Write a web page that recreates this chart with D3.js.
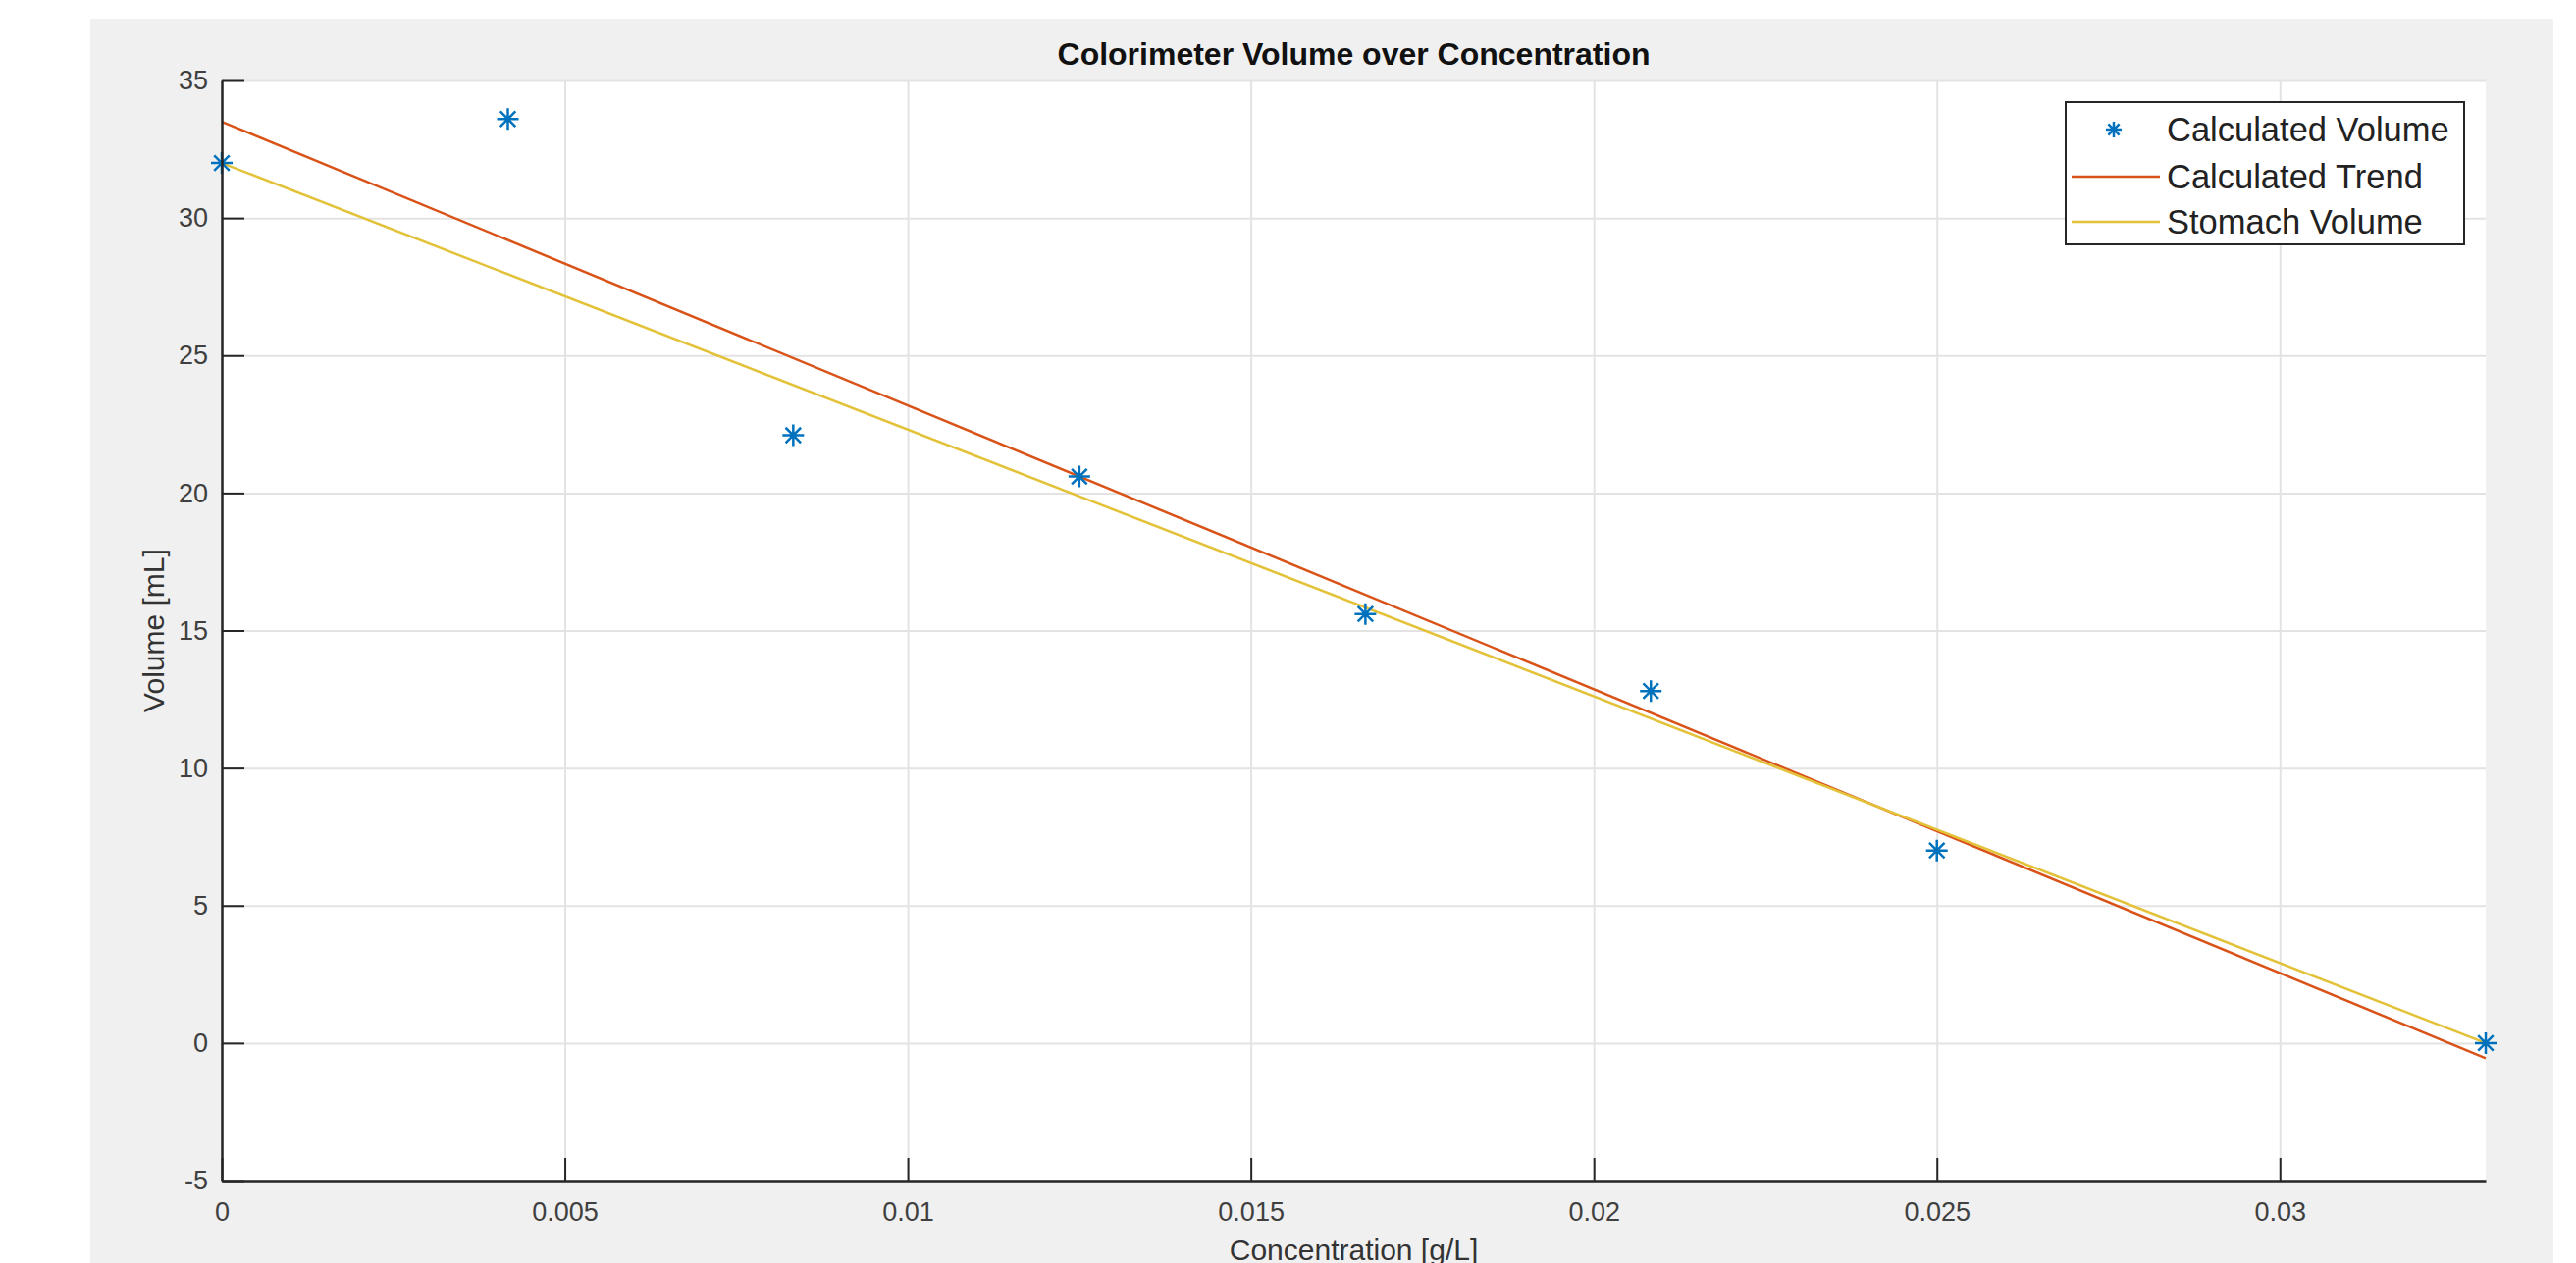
<!DOCTYPE html>
<html>
<head>
<meta charset="utf-8">
<script src="https://cdn.jsdelivr.net/npm/d3@7"></script>
<style>
  body { margin: 0; background: #fff; }
  svg { display: block; font-family: "Liberation Sans", Arial, sans-serif; }
</style>
</head>
<body>
<div id="wrapper"></div>
<script>
// data
const concentration = [0, 0.00417, 0.00833, 0.0125, 0.01667, 0.02083, 0.025, 0.033];
const calcVolume = [32.0, 33.6, 22.1, 20.6, 15.6, 12.8, 7.0, 0.0];
const trendX = [0, 0.033];
const trendY = [33.5, -0.55];
const stomachX = [0, 0.033];
const stomachY = [32.0, 0.0];
const xTicks = [0, 0.005, 0.01, 0.015, 0.02, 0.025, 0.03];
const xTickLabels = ['0', '0.005', '0.01', '0.015', '0.02', '0.025', '0.03'];
const yTicks = [-5, 0, 5, 10, 15, 20, 25, 30, 35];
const yTickLabels = ['-5', '0', '5', '10', '15', '20', '25', '30', '35'];
const seriesNames = ['Calculated Volume', 'Calculated Trend', 'Stomach Volume'];
const seriesColors = ['#0072BD', '#D95319', '#E3C23A'];

let W = 2625, H = 1287;
let margin = { left: 226, top: 82, right: 2625 - 2533, bottom: 1287 - 1203 },
    width = W - margin.left - margin.right,
    height = H - margin.top - margin.bottom;

let svg = d3.select('div#wrapper')
            .append('svg')
            .attr('width', W)
            .attr('height', H);

// figure background
svg.append('rect')
   .attr('x', 92).attr('y', 19)
   .attr('width', 2602 - 92).attr('height', H - 19)
   .attr('fill', '#f0f0f0');

let g = svg.append('g')
           .attr('transform', 'translate(' + margin.left + ',' + margin.top + ')');

g.append('rect')
 .attr('width', width).attr('height', height)
 .attr('fill', '#fff');

let x = d3.scaleLinear().domain([0, 0.033]).range([0, width]);
let y = d3.scaleLinear().domain([-5, 35]).range([height, 0]);

// grid
g.append('g')
 .attr('class', 'grid')
 .attr('transform', 'translate(0,' + height + ')')
 .call(d3.axisBottom(x).tickValues(xTicks).tickSize(-height).tickFormat(''))
 .call(s => s.select('.domain').remove())
 .selectAll('line').attr('stroke', '#e3e3e3').attr('stroke-width', 2);

g.append('g')
 .attr('class', 'grid')
 .call(d3.axisLeft(y).tickValues(yTicks).tickSize(-width).tickFormat(''))
 .call(s => s.select('.domain').remove())
 .selectAll('line').attr('stroke', '#e3e3e3').attr('stroke-width', 2);

// lines
let line = d3.line().x(d => x(d[0])).y(d => y(d[1]));

g.append('path')
 .datum(trendX.map((d, i) => [d, trendY[i]]))
 .attr('d', line)
 .attr('fill', 'none')
 .attr('stroke', seriesColors[1])
 .attr('stroke-width', 2.5);

g.append('path')
 .datum(stomachX.map((d, i) => [d, stomachY[i]]))
 .attr('d', line)
 .attr('fill', 'none')
 .attr('stroke', seriesColors[2])
 .attr('stroke-width', 2.5);

// matlab style asterisk marker
const asterisk = {
  draw(ctx, size) {
    let r = Math.sqrt(size) / 2, d = r * 0.7071;
    ctx.moveTo(-r, 0); ctx.lineTo(r, 0);
    ctx.moveTo(0, -r); ctx.lineTo(0, r);
    ctx.moveTo(-d, -d); ctx.lineTo(d, d);
    ctx.moveTo(-d, d); ctx.lineTo(d, -d);
  }
};

g.append('g')
 .selectAll('path')
 .data(concentration)
 .enter()
 .append('path')
 .attr('transform', (d, i) => 'translate(' + x(d) + ',' + y(calcVolume[i]) + ')')
 .attr('d', d3.symbol().type(asterisk).size(484))
 .attr('fill', 'none')
 .attr('stroke', seriesColors[0])
 .attr('stroke-width', 2.5);

// axes
let xAxis = g.append('g')
  .attr('transform', 'translate(0,' + height + ')')
  .call(d3.axisBottom(x).tickValues(xTicks)
          .tickFormat((d, i) => xTickLabels[i])
          .tickSizeInner(-23).tickSizeOuter(0).tickPadding(22));

let yAxis = g.append('g')
  .call(d3.axisLeft(y).tickValues(yTicks)
          .tickFormat((d, i) => yTickLabels[i])
          .tickSizeInner(-23).tickSizeOuter(0).tickPadding(14));

[xAxis, yAxis].forEach(a => {
  a.select('.domain').attr('stroke', '#262626').attr('stroke-width', 2.5);
  a.selectAll('.tick line').attr('stroke', '#262626').attr('stroke-width', 2);
  a.selectAll('.tick text').attr('fill', '#404040').style('font-size', '27px');
});

// titles
svg.append('text')
   .attr('x', margin.left + width / 2)
   .attr('y', 66)
   .attr('text-anchor', 'middle')
   .style('font-size', '32px')
   .style('font-weight', 'bold')
   .attr('fill', '#111')
   .text('Colorimeter Volume over Concentration');

svg.append('text')
   .attr('x', margin.left + width / 2)
   .attr('y', 1284)
   .attr('text-anchor', 'middle')
   .style('font-size', '30px')
   .attr('fill', '#333')
   .text('Concentration [g/L]');

svg.append('text')
   .attr('transform', 'translate(167,' + (margin.top + height / 2) + ') rotate(-90)')
   .attr('text-anchor', 'middle')
   .style('font-size', '30px')
   .attr('fill', '#333')
   .text('Volume [mL]');

// legend
let lg = svg.append('g').attr('transform', 'translate(2105,104)');
lg.append('rect')
  .attr('width', 406).attr('height', 145)
  .attr('fill', '#fff')
  .attr('stroke', '#262626').attr('stroke-width', 2);

let rowY = [28, 76, 122];
seriesNames.forEach((name, i) => {
  if (i === 0) {
    lg.append('path')
      .attr('transform', 'translate(49,' + rowY[i] + ')')
      .attr('d', d3.symbol().type(asterisk).size(256))
      .attr('fill', 'none')
      .attr('stroke', seriesColors[0])
      .attr('stroke-width', 2.5);
  } else {
    lg.append('line')
      .attr('x1', 6).attr('x2', 96)
      .attr('y1', rowY[i]).attr('y2', rowY[i])
      .attr('stroke', seriesColors[i])
      .attr('stroke-width', 2.5);
  }
  lg.append('text')
    .attr('x', 103)
    .attr('y', rowY[i] + 12)
    .style('font-size', '34.5px')
    .attr('fill', '#222')
    .text(name);
});
</script>
</body>
</html>
